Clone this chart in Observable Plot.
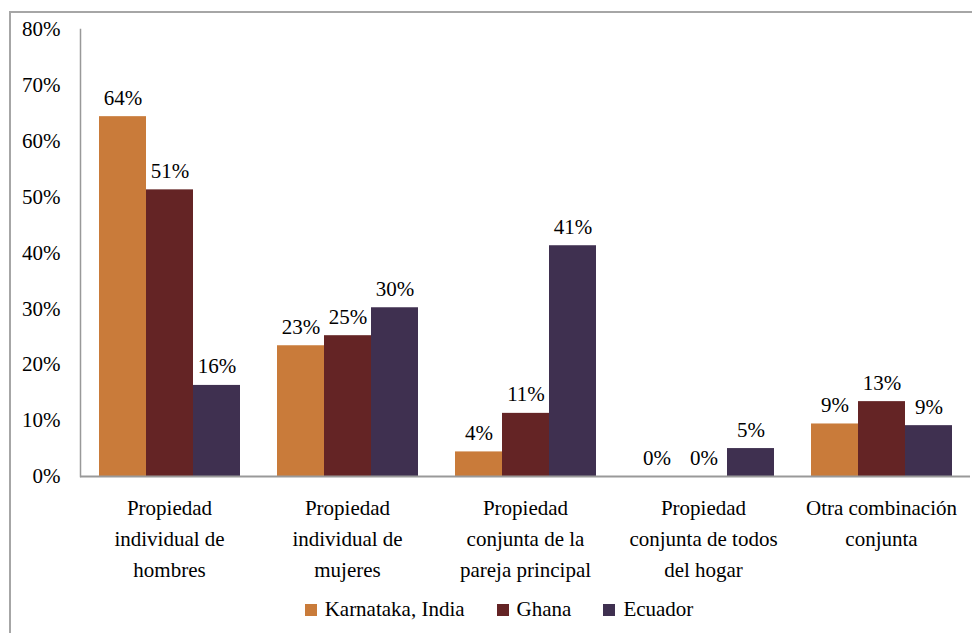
<!DOCTYPE html>
<html><head><meta charset="utf-8">
<script src="https://cdn.jsdelivr.net/npm/d3@7"></script>
<script src="https://cdn.jsdelivr.net/npm/@observablehq/plot@0.6"></script>
<style>
body{margin:0;background:#fff;font-family:"Liberation Serif","DejaVu Serif","Noto Serif",serif;}
#wrap{position:relative;width:972px;height:633px;overflow:hidden;background:#fff;}
#frame{position:absolute;left:9px;top:11px;width:1000px;height:700px;border-left:2px solid #a6a6a6;border-top:2px solid #a6a6a6;}
#chart{position:absolute;left:0;top:0;}
#legend{position:absolute;top:597px;left:0;width:998px;display:flex;justify-content:center;align-items:center;font-size:21px;color:#000;}
.item{display:flex;align-items:center;margin:0 16px;}
.sw{width:12px;height:12px;margin-right:8px;}
</style>
</head><body>
<div id="wrap"><div id="frame"></div><div id="chart"></div><div id="legend"></div></div>
<script>
const categories = ["Propiedad individual de hombres","Propiedad individual de mujeres","Propiedad conjunta de la pareja principal","Propiedad conjunta de todos del hogar","Otra combinación conjunta"];
const categoryLabels = ["Propiedad\nindividual de\nhombres","Propiedad\nindividual de\nmujeres","Propiedad\nconjunta de la\npareja principal","Propiedad\nconjunta de todos\ndel hogar","Otra combinación\nconjunta"];
const series = ["Karnataka, India","Ghana","Ecuador"];
const karnataka = [64.4, 23.4, 4.4, 0, 9.4];
const ghana = [51.3, 25.2, 11.3, 0, 13.4];
const ecuador = [16.3, 30.2, 41.3, 5.0, 9.1];
const colors = ["#C97B3A","#642425","#3F3050"];
const yTicks = [0,10,20,30,40,50,60,70,80];

const seriesValues = [karnataka, ghana, ecuador];
const data = categories.flatMap((c,i)=>series.map((s,j)=>({category:c, series:s, value:seriesValues[j][i]})));
const labelOf = new Map(categories.map((c,i)=>[c, categoryLabels[i]]));

const chart = Plot.plot({
  width:972, height:590,
  marginLeft:78, marginRight:1, marginTop:29, marginBottom:114,
  style:{fontFamily:"'Liberation Serif', 'DejaVu Serif', 'Noto Serif', serif", fontSize:"21px", color:"#000", background:"transparent"},
  fx:{domain:categories, padding:0, axis:null},
  x:{domain:series, paddingInner:0, paddingOuter:0.375, axis:null},
  y:{domain:[0,80], ticks:yTicks, tickFormat:d=>d+"%", tickSize:0, tickPadding:20, label:null},
  color:{domain:series, range:colors},
  marks:[
    Plot.frame({anchor:"left", facetAnchor:"left", stroke:"#999", strokeWidth:1.5}),
    Plot.barY(data,{fx:"category", x:"series", y:"value", fill:"series"}),
    Plot.ruleY([0],{stroke:"#999", strokeWidth:2}),
    Plot.text(data,{fx:"category", x:"series", y:"value", text:d=>Math.round(d.value)+"%", lineAnchor:"bottom", dy:-12, fill:"#000"}),
    Plot.text(categories,{fx:d=>d, text:d=>labelOf.get(d), frameAnchor:"bottom", lineAnchor:"top", dy:16, lineHeight:1.48, fill:"#000"})
  ]
});
document.getElementById("chart").appendChild(chart);

const legend = document.getElementById("legend");
series.forEach((s,i)=>{
  const it = document.createElement("div"); it.className="item";
  const sw = document.createElement("div"); sw.className="sw"; sw.style.background=colors[i];
  const tx = document.createElement("span"); tx.textContent=s;
  it.appendChild(sw); it.appendChild(tx); legend.appendChild(it);
});
</script>
</body></html>
